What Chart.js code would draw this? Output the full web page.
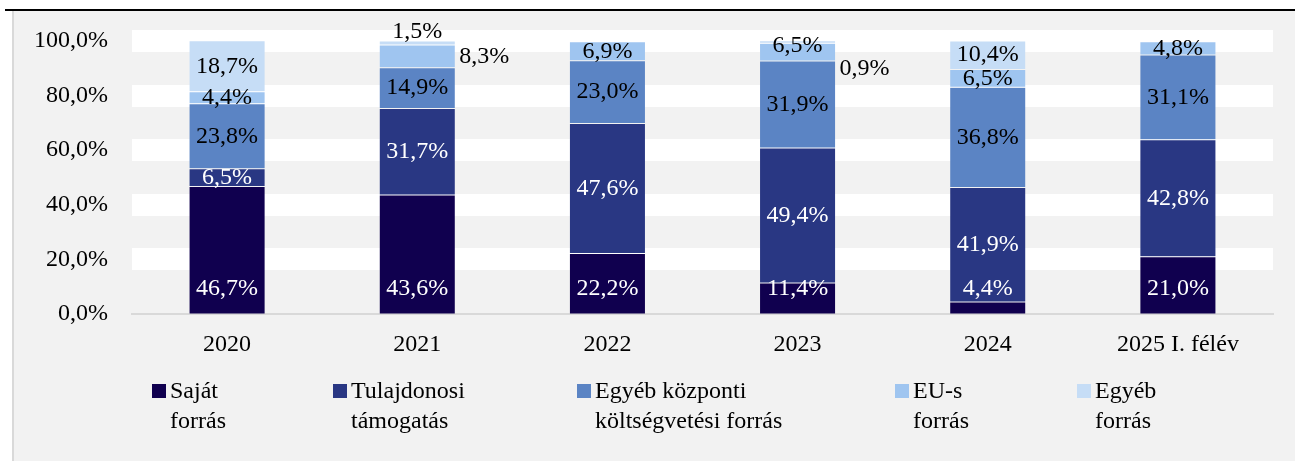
<!DOCTYPE html>
<html>
<head>
<meta charset="utf-8">
<script src="https://cdn.jsdelivr.net/npm/chart.js@4.4.0/dist/chart.umd.min.js"></script>
<style>
  html, body { margin: 0; padding: 0; background: #fff; }
  #wrap { position: relative; width: 1295px; height: 461px; overflow: hidden; }
  #title { position: absolute; top: -20px; left: 540px; width: 245px; text-align: center;
           font: bold 22px 'Liberation Serif', serif; color: #808080; white-space: nowrap; }
  #rule { position: absolute; top: 9px; left: 5px; right: 0; height: 2px; background: #000; }
  #panel { position: absolute; top: 11px; left: 12px; right: 0; bottom: 0;
           background: #f2f2f2; border-left: 2px solid #d9d9d9; }
  canvas { position: absolute; left: 0; top: 0; }
</style>
</head>
<body>
<div id="wrap">
  <div id="title">2020–2025. I. FÉLÉVBEN</div>
  <div id="rule"></div>
  <div id="panel"></div>
  <canvas id="chart" width="1295" height="461"></canvas>
</div>
<script>
// kategóriák és sorozatok (%)
const years = ['2020', '2021', '2022', '2023', '2024', '2025 I. félév'];
const sajat = [46.7, 43.6, 22.2, 11.4, 4.4, 21.0];
const tulajdonosi = [6.5, 31.7, 47.6, 49.4, 41.9, 42.8];
const kozponti = [23.8, 14.9, 23.0, 31.9, 36.8, 31.1];
const eus = [4.4, 8.3, 6.9, 6.5, 6.5, 4.8];
const egyeb = [18.7, 1.5, 0.3, 0.9, 10.4, 0.3];
const yTicks = [0, 20, 40, 60, 80, 100];

const seriesNames = [['Saját', 'forrás'], ['Tulajdonosi', 'támogatás'], ['Egyéb központi', 'költségvetési forrás'], ['EU-s', 'forrás'], ['Egyéb', 'forrás']];
const colors = ['#10004f', '#293783', '#5b84c4', '#9fc5f0', '#c6ddf6'];
const labelColors = ['#fff', '#fff', '#000', '#000', '#000'];

const fmt = v => v.toFixed(1).replace('.', ',') + '%';
const FONT = "'Liberation Serif', serif";

// kézzel áthelyezett címkék (datasetIndex-categoryIndex)
const moved = {
  '3-1': { side: 'right', dy: 0 },
  '4-1': { side: 'top' },
  '4-3': { side: 'right', dy: 27 },
  '3-3': { dy: -6 }
};

const segLabels = {
  id: 'segLabels',
  afterDatasetsDraw(chart) {
    const ctx = chart.ctx;
    ctx.save();
    ctx.font = '24px ' + FONT;
    ctx.textBaseline = 'middle';
    chart.data.datasets.forEach((ds, di) => {
      chart.getDatasetMeta(di).data.forEach((bar, i) => {
        const v = ds.data[i];
        if (v < 0.5) return;
        const p = bar.getProps(['x', 'y', 'base', 'width'], true);
        let x = p.x, y = (p.y + p.base) / 2, align = 'center';
        let color = labelColors[di];
        if (di === 0) y = p.base - 25;
        const m = moved[di + '-' + i];
        if (m) {
          if (m.side === 'right') { x = p.x + p.width / 2 + 4; align = 'left'; color = '#000'; }
          if (m.side === 'top') { y = p.y - 9; color = '#000'; }
          if (m.dy) y += m.dy;
        }
        ctx.textAlign = align;
        ctx.fillStyle = color;
        ctx.fillText(fmt(v), x, y);
      });
    });
    ctx.restore();
  }
};

const legendBox = {
  id: 'legendBox',
  afterDraw(chart, args, opts) {
    const ctx = chart.ctx;
    ctx.save();
    ctx.font = '24px ' + FONT;
    ctx.textAlign = 'left';
    ctx.textBaseline = 'alphabetic';
    chart.data.datasets.forEach((ds, di) => {
      const bx = opts.xs[di];
      ctx.fillStyle = ds.backgroundColor;
      ctx.fillRect(bx, opts.top, 14, 14);
      ctx.fillStyle = '#000';
      seriesNames[di].forEach((line, li) => {
        ctx.fillText(line, bx + 18, opts.top + 14 + li * 30);
      });
    });
    ctx.restore();
  }
};

const datasets = [sajat, tulajdonosi, kozponti, eus, egyeb].map((d, i) => ({
  label: seriesNames[i].join(' '),
  data: d,
  backgroundColor: colors[i],
  borderColor: 'rgba(255,255,255,0.12)',
  borderWidth: 0.5,
  borderSkipped: false
}));

new Chart(document.getElementById('chart').getContext('2d'), {
  type: 'bar',
  data: { labels: years, datasets: datasets },
  options: {
    responsive: false,
    animation: false,
    layout: { padding: { top: 41, right: 22, left: 0, bottom: 0 } },
    datasets: { bar: { categoryPercentage: 1, barPercentage: 0.4 } },
    plugins: {
      legend: { display: false },
      tooltip: { enabled: false },
      legendBox: { xs: [152, 333, 577, 895, 1077], top: 384 }
    },
    scales: {
      x: {
        stacked: true,
        grid: { display: false, drawTicks: false },
        border: { display: true, color: '#d9d9d9', width: 2 },
        ticks: { color: '#000', font: { family: FONT, size: 24 }, padding: 16 },
        afterFit: s => { s.height = 147; }
      },
      y: {
        stacked: true,
        min: 0,
        max: 100,
        afterBuildTicks: s => { s.ticks = yTicks.map(v => ({ value: v })); },
        grid: {
          color: '#fff',
          lineWidth: c => (c.tick && c.tick.value === 0 ? 0 : 22),
          drawTicks: false
        },
        border: { display: false },
        ticks: { color: '#000', font: { family: FONT, size: 24 }, padding: 24, callback: v => fmt(v) },
        afterFit: s => { s.width = 132; }
      }
    }
  },
  plugins: [segLabels, legendBox]
});
</script>
</body>
</html>
